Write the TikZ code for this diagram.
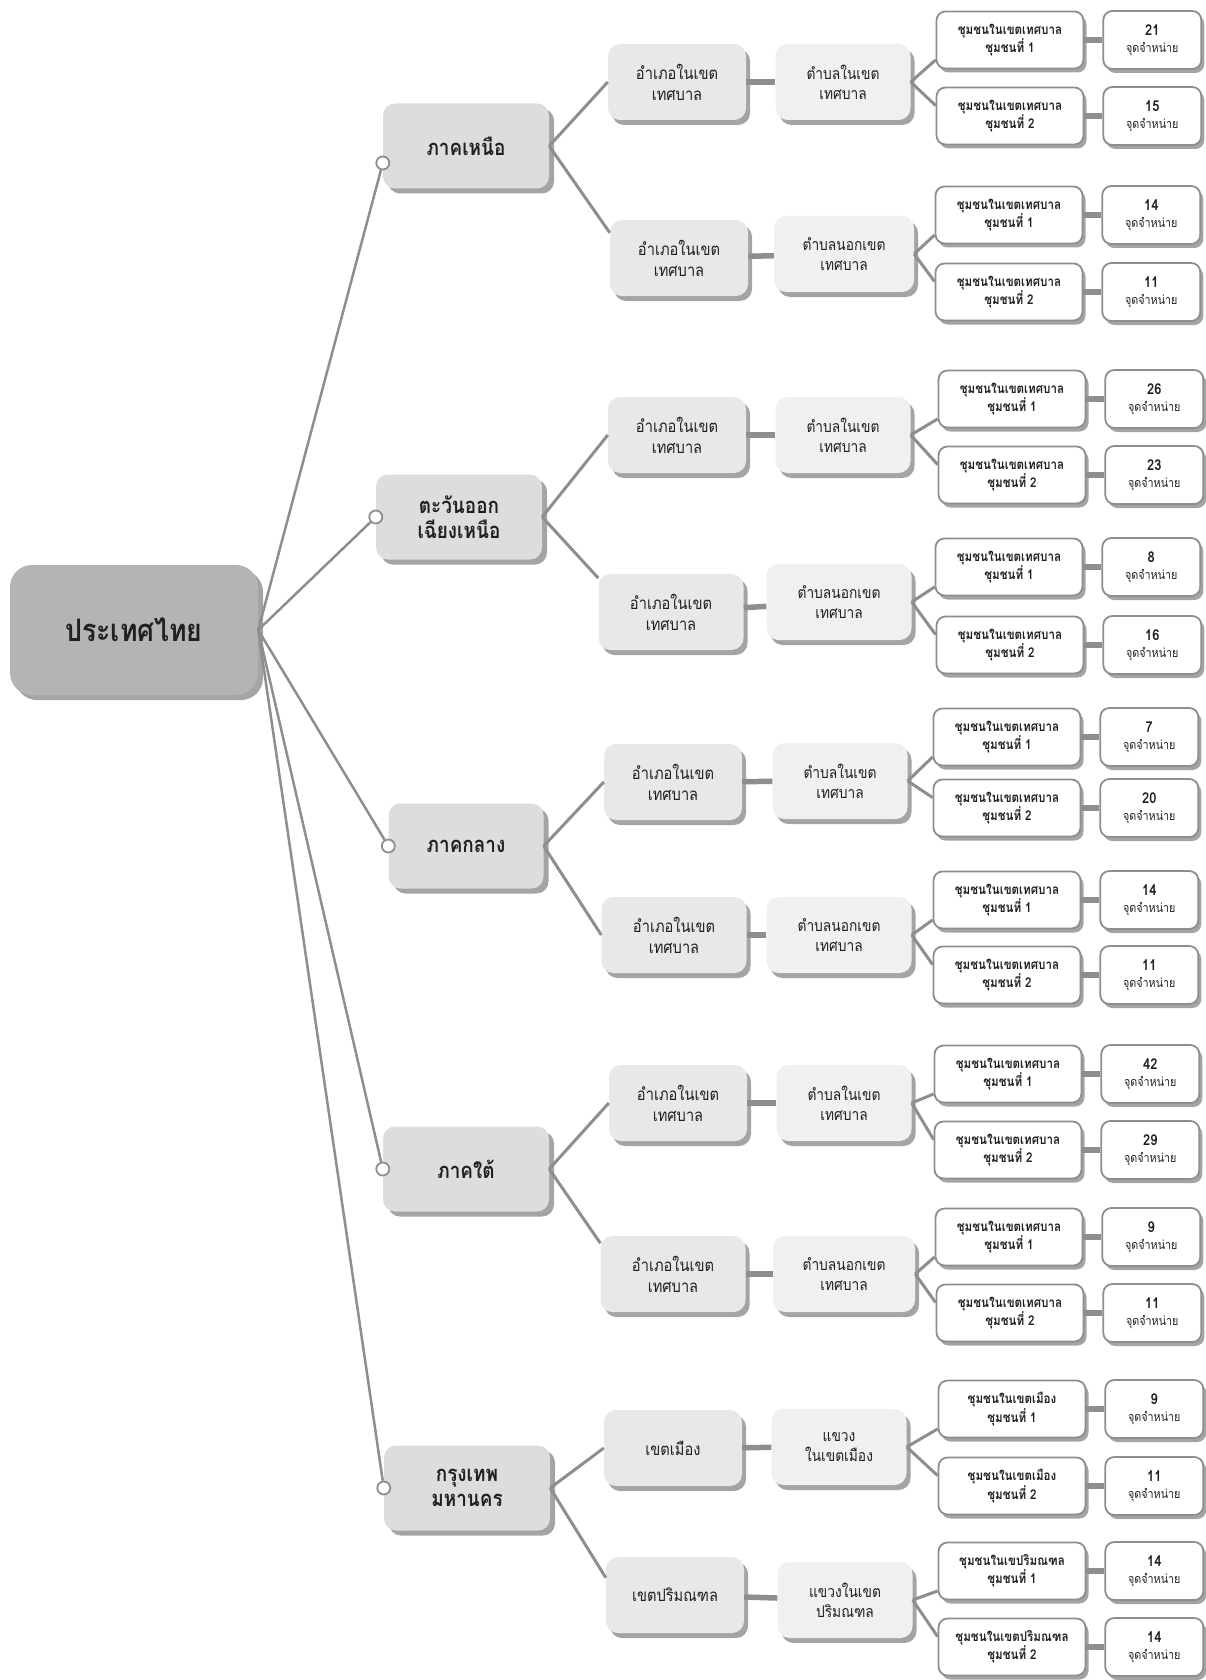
\documentclass[tikz,border=0pt]{standalone}
\usepackage{fontspec}
\usepackage{tikz}
\usetikzlibrary{positioning,shadows}
\setmainfont[Script=Thai,FakeStretch=0.86]{Loma}
\definecolor{inkblack}{HTML}{231F20}
\definecolor{rootgray}{HTML}{B3B4B6}
\definecolor{regiongray}{HTML}{DCDDDF}
\definecolor{amphoegray}{HTML}{E7E8E9}
\definecolor{tambongray}{HTML}{F0F0F1}
\definecolor{shadegray}{HTML}{A3A4A6}
\definecolor{linegray}{HTML}{8D8E90}
\newcommand\salepoint[1]{{\bfseries\fontsize{15}{16}\selectfont #1}\\จุดจำหน่าย}
\tikzset{
  root node/.style={rectangle, rounded corners=22pt, fill=rootgray, text=inkblack, align=center,
    minimum width=248pt, minimum height=130pt, inner sep=3pt, font=\fontsize{31}{36}\selectfont\bfseries,
    drop shadow={shadow xshift=5pt, shadow yshift=-5pt, fill=shadegray, opacity=1}},
  region node/.style={rectangle, rounded corners=12pt, fill=regiongray, text=inkblack, align=center,
    minimum width=166pt, minimum height=85pt, inner sep=3pt, font=\fontsize{22}{25}\selectfont\bfseries,
    drop shadow={shadow xshift=5pt, shadow yshift=-5pt, fill=shadegray, opacity=1}},
  amphoe node/.style={rectangle, rounded corners=12pt, fill=amphoegray, text=inkblack, align=center,
    minimum width=138pt, minimum height=76pt, inner sep=3pt, font=\fontsize{17}{21}\selectfont,
    drop shadow={shadow xshift=4pt, shadow yshift=-5pt, fill=shadegray, opacity=1}},
  tambon node/.style={rectangle, rounded corners=12pt, fill=tambongray, text=inkblack, align=center,
    minimum width=135pt, minimum height=76pt, inner sep=3pt, font=\fontsize{16}{20}\selectfont,
    drop shadow={shadow xshift=4pt, shadow yshift=-5pt, fill=shadegray, opacity=1}},
  chumchon node/.style={rectangle, rounded corners=9pt, draw=linegray, line width=1.8pt, fill=white,
    text=inkblack, align=center, minimum width=147pt, minimum height=57pt, inner sep=2pt,
    font=\fontsize{13.5}{17}\selectfont\bfseries,
    drop shadow={shadow xshift=3pt, shadow yshift=-4pt, fill=shadegray, opacity=1}},
  count node/.style={rectangle, rounded corners=9pt, draw=linegray, line width=1.8pt, fill=white,
    text=inkblack, align=center, minimum width=98pt, minimum height=58pt, inner sep=2pt,
    font=\fontsize{12.5}{17}\selectfont,
    drop shadow={shadow xshift=3pt, shadow yshift=-4pt, fill=shadegray, opacity=1}},
  pin/.style={circle, draw=linegray, fill=white, line width=1.8pt, minimum size=13pt, inner sep=0pt},
  link/.style={draw=linegray, line width=3pt},
  bar/.style={draw=linegray, line width=5.5pt},
}

\begin{document}
\begin{tikzpicture}[x=1pt,y=-1pt]
        \useasboundingbox (0,0) rectangle (1206,1680);
        % Root and regions
        \node[root node] (root) at (134,630) {ประเทศไทย};
        \node[region node] (R1) at (466,146) {ภาคเหนือ};
        \node[region node] (R2) at (459,517) {ตะวันออก\\เฉียงเหนือ};
        \node[region node, minimum width=155pt] (R3) at (466,846) {ภาคกลาง};
        \node[region node] (R4) at (466,1169) {ภาคใต้};
        \node[region node] (R5) at (467,1488) {กรุงเทพ\\มหานคร};
        \node[pin] (p1) at ([yshift=-17pt]R1.west) {};
        \node[pin] (p2) at (R2.west) {};
        \node[pin] (p3) at (R3.west) {};
        \node[pin] (p4) at (R4.west) {};
        \node[pin] (p5) at (R5.west) {};
        % Districts
        \node[amphoe node] (D1) at (677,82) {อำเภอในเขต\\เทศบาล};
        \node[amphoe node] (D2) at (679,258) {อำเภอในเขต\\เทศบาล};
        \node[amphoe node] (D3) at (677,435) {อำเภอในเขต\\เทศบาล};
        \node[amphoe node, minimum width=145pt] (D4) at (671,612) {อำเภอในเขต\\เทศบาล};
        \node[amphoe node] (D5) at (673,782) {อำเภอในเขต\\เทศบาล};
        \node[amphoe node, minimum width=145pt] (D6) at (674,935) {อำเภอในเขต\\เทศบาล};
        \node[amphoe node] (D7) at (678,1103) {อำเภอในเขต\\เทศบาล};
        \node[amphoe node, minimum width=145pt] (D8) at (673,1274) {อำเภอในเขต\\เทศบาล};
        \node[amphoe node] (D9) at (673,1448) {เขตเมือง};
        \node[amphoe node] (D10) at (675,1595) {เขตปริมณฑล};
        % Sub-districts
        \node[tambon node] (T1) at (843,82) {ตำบลในเขต\\เทศบาล};
        \node[tambon node, minimum width=140pt] (T2) at (844,254) {ตำบลนอกเขต\\เทศบาล};
        \node[tambon node] (T3) at (843,435) {ตำบลในเขต\\เทศบาล};
        \node[tambon node, minimum width=145pt] (T4) at (839,602) {ตำบลนอกเขต\\เทศบาล};
        \node[tambon node] (T5) at (840,781) {ตำบลในเขต\\เทศบาล};
        \node[tambon node, minimum width=145pt] (T6) at (839,935) {ตำบลนอกเขต\\เทศบาล};
        \node[tambon node] (T7) at (844,1103) {ตำบลในเขต\\เทศบาล};
        \node[tambon node, minimum width=142pt] (T8) at (844,1274) {ตำบลนอกเขต\\เทศบาล};
        \node[tambon node] (T9) at (839,1447) {แขวง\\ในเขตเมือง};
        \node[tambon node] (T10) at (845,1600) {แขวงในเขต\\ปริมณฑล};
        % Communities
        \node[chumchon node] (C1) at (1010,40) {ชุมชนในเขตเทศบาล\\ชุมชนที่ 1};
        \node[chumchon node] (C2) at (1010,116) {ชุมชนในเขตเทศบาล\\ชุมชนที่ 2};
        \node[chumchon node] (C3) at (1009,215) {ชุมชนในเขตเทศบาล\\ชุมชนที่ 1};
        \node[chumchon node] (C4) at (1009,292) {ชุมชนในเขตเทศบาล\\ชุมชนที่ 2};
        \node[chumchon node] (C5) at (1012,399) {ชุมชนในเขตเทศบาล\\ชุมชนที่ 1};
        \node[chumchon node] (C6) at (1012,475) {ชุมชนในเขตเทศบาล\\ชุมชนที่ 2};
        \node[chumchon node] (C7) at (1009,567) {ชุมชนในเขตเทศบาล\\ชุมชนที่ 1};
        \node[chumchon node] (C8) at (1010,645) {ชุมชนในเขตเทศบาล\\ชุมชนที่ 2};
        \node[chumchon node] (C9) at (1007,737) {ชุมชนในเขตเทศบาล\\ชุมชนที่ 1};
        \node[chumchon node] (C10) at (1007,808) {ชุมชนในเขตเทศบาล\\ชุมชนที่ 2};
        \node[chumchon node] (C11) at (1007,900) {ชุมชนในเขตเทศบาล\\ชุมชนที่ 1};
        \node[chumchon node] (C12) at (1007,975) {ชุมชนในเขตเทศบาล\\ชุมชนที่ 2};
        \node[chumchon node] (C13) at (1008,1074) {ชุมชนในเขตเทศบาล\\ชุมชนที่ 1};
        \node[chumchon node] (C14) at (1008,1150) {ชุมชนในเขตเทศบาล\\ชุมชนที่ 2};
        \node[chumchon node] (C15) at (1009,1237) {ชุมชนในเขตเทศบาล\\ชุมชนที่ 1};
        \node[chumchon node] (C16) at (1010,1313) {ชุมชนในเขตเทศบาล\\ชุมชนที่ 2};
        \node[chumchon node] (C17) at (1012,1409) {ชุมชนในเขตเมือง\\ชุมชนที่ 1};
        \node[chumchon node] (C18) at (1012,1486) {ชุมชนในเขตเมือง\\ชุมชนที่ 2};
        \node[chumchon node] (C19) at (1012,1571) {ชุมชนในเขปริมณฑล\\ชุมชนที่ 1};
        \node[chumchon node] (C20) at (1012,1647) {ชุมชนในเขตปริมณฑล\\ชุมชนที่ 2};
        % Sale points
        \node[count node] [right = 18pt of C1] (N1) {\salepoint{21}};
        \node[count node] [right = 18pt of C2] (N2) {\salepoint{15}};
        \node[count node] [right = 18pt of C3] (N3) {\salepoint{14}};
        \node[count node] [right = 18pt of C4] (N4) {\salepoint{11}};
        \node[count node] [right = 18pt of C5] (N5) {\salepoint{26}};
        \node[count node] [right = 18pt of C6] (N6) {\salepoint{23}};
        \node[count node] [right = 18pt of C7] (N7) {\salepoint{8}};
        \node[count node] [right = 18pt of C8] (N8) {\salepoint{16}};
        \node[count node] [right = 18pt of C9] (N9) {\salepoint{7}};
        \node[count node] [right = 18pt of C10] (N10) {\salepoint{20}};
        \node[count node] [right = 18pt of C11] (N11) {\salepoint{14}};
        \node[count node] [right = 18pt of C12] (N12) {\salepoint{11}};
        \node[count node] [right = 18pt of C13] (N13) {\salepoint{42}};
        \node[count node] [right = 18pt of C14] (N14) {\salepoint{29}};
        \node[count node] [right = 18pt of C15] (N15) {\salepoint{9}};
        \node[count node] [right = 18pt of C16] (N16) {\salepoint{11}};
        \node[count node] [right = 18pt of C17] (N17) {\salepoint{9}};
        \node[count node] [right = 18pt of C18] (N18) {\salepoint{11}};
        \node[count node] [right = 18pt of C19] (N19) {\salepoint{14}};
        \node[count node] [right = 18pt of C20] (N20) {\salepoint{14}};
        % Paths
        \path[draw=linegray, line width=2.5pt]
        (root.east) edge (p1)
        (root.east) edge (p2)
        (root.east) edge (p3)
        (root.east) edge (p4)
        (root.east) edge (p5);
        \path[link]
        (R1.east) edge (D1.west)
        (R1.east) edge (D2.160)
        (R2.east) edge (D3.west)
        (R2.east) edge (D4.155)
        (R3.east) edge (D5.west)
        (R3.east) edge (D6.west)
        (R4.east) edge (D7.west)
        (R4.east) edge (D8.157)
        (R5.east) edge (D9.west)
        (R5.east) edge (D10.166);
        \path[bar]
        (D1) edge (T1) (D2) edge (T2) (D3) edge (T3) (D4) edge (T4) (D5) edge (T5)
        (D6) edge (T6) (D7) edge (T7) (D8) edge (T8) (D9) edge (T9) (D10) edge (T10);
        \path[link]
        (T1.east) edge (C1.195) (T1.east) edge (C2.172)
        (T2.east) edge (C3.195) (T2.east) edge (C4.172)
        (T3.east) edge (C5.195) (T3.east) edge (C6.172)
        (T4.east) edge (C7.195) (T4.east) edge (C8.172)
        (T5.east) edge (C9.195) (T5.east) edge (C10.172)
        (T6.east) edge (C11.195) (T6.east) edge (C12.172)
        (T7.east) edge (C13.195) (T7.east) edge (C14.172)
        (T8.east) edge (C15.195) (T8.east) edge (C16.172)
        (T9.east) edge (C17.195) (T9.east) edge (C18.172)
        (T10.east) edge (C19.195) (T10.east) edge (C20.172);
        \path[bar]
        (C1) edge (N1) (C2) edge (N2) (C3) edge (N3) (C4) edge (N4) (C5) edge (N5)
        (C6) edge (N6) (C7) edge (N7) (C8) edge (N8) (C9) edge (N9) (C10) edge (N10)
        (C11) edge (N11) (C12) edge (N12) (C13) edge (N13) (C14) edge (N14) (C15) edge (N15)
        (C16) edge (N16) (C17) edge (N17) (C18) edge (N18) (C19) edge (N19) (C20) edge (N20);
    \end{tikzpicture}
\end{document}
